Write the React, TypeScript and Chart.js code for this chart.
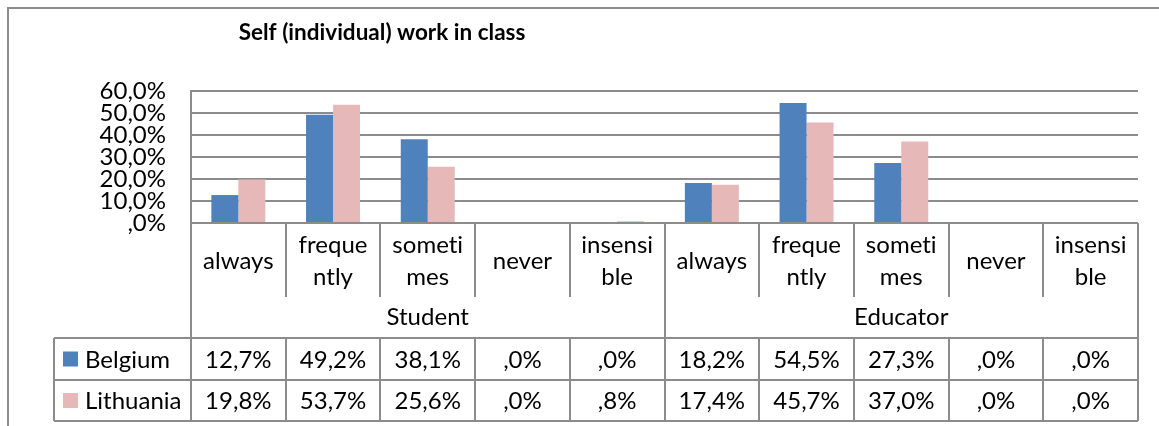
import React, { useEffect, useRef } from "react";
import { Chart, registerables } from "chart.js";

Chart.register(...registerables);

const chartTitle = "Self (individual) work in class";
const groups = ["Student", "Educator"];
const categoryLines = [["always"], ["freque", "ntly"], ["someti", "mes"], ["never"], ["insensi", "ble"]];
const categories = ["always", "frequently", "sometimes", "never", "insensible"];
const seriesNames = ["Belgium", "Lithuania"];
const belgium = [12.7, 49.2, 38.1, 0, 0, 18.2, 54.5, 27.3, 0, 0];
const lithuania = [19.8, 53.7, 25.6, 0, 0.8, 17.4, 45.7, 37.0, 0, 0];
const yTicks = [0, 10, 20, 30, 40, 50, 60];
const colors = ["#4F81BD", "#E6B9B8"];

const FONT = "Lato, 'Liberation Sans', sans-serif";
const GRID = "#8c8c8c";

function fmt(v: number): string {
  let s = v.toFixed(1).replace(".", ",");
  if (s.startsWith("0,")) s = s.slice(1);
  return s + "%";
}

const labels: string[] = [];
groups.forEach((g) => categories.forEach((c) => labels.push(g + " " + c)));

const tablePlugin = {
  id: "excelTable",
  beforeDraw(chart: any) {
    const ctx = chart.ctx;
    ctx.save();
    ctx.fillStyle = "#ffffff";
    ctx.fillRect(0, 0, chart.width, chart.height);
    ctx.strokeStyle = GRID;
    ctx.lineWidth = 2;
    ctx.beginPath();
    ctx.moveTo(8, chart.height);
    ctx.lineTo(8, 8);
    ctx.lineTo(chart.width, 8);
    ctx.stroke();
    ctx.restore();
  },
  afterDraw(chart: any) {
    const ctx = chart.ctx;
    const area = chart.chartArea;
    const x = chart.scales.x;
    const n = labels.length;
    const colW = (area.right - area.left) / n;
    const bound = (k: number) => area.left + k * colW;
    const zeroY = area.bottom;
    const labelBottom = 297;
    const row1 = 338;
    const row2 = 380;
    const row3 = 421;
    const tableLeft = 54;

    ctx.save();
    ctx.strokeStyle = GRID;
    ctx.lineWidth = 2;
    ctx.beginPath();
    for (let k = 0; k <= n; k++) {
      const bx = Math.round(bound(k));
      if (k === 0 || k === n || k === categories.length) {
        ctx.moveTo(bx, zeroY);
        ctx.lineTo(bx, row3);
      } else {
        ctx.moveTo(bx, zeroY);
        ctx.lineTo(bx, labelBottom);
        ctx.moveTo(bx, row1);
        ctx.lineTo(bx, row3);
      }
    }
    [row1, row2, row3].forEach((yy) => {
      ctx.moveTo(tableLeft, yy);
      ctx.lineTo(area.right, yy);
    });
    ctx.moveTo(tableLeft, row1);
    ctx.lineTo(tableLeft, row3);
    ctx.stroke();

    try {
      (ctx as any).letterSpacing = "0.01px";
    } catch (e) {}

    // title
    ctx.fillStyle = "#000000";
    ctx.textAlign = "center";
    ctx.textBaseline = "middle";
    ctx.font = "bold 22.5px " + FONT;
    ctx.fillText(chartTitle, 382, 33);

    // category labels
    ctx.font = "24px " + FONT;
    for (let i = 0; i < n; i++) {
      const cx = x.getPixelForValue(i);
      const lines = categoryLines[i % categories.length];
      if (lines.length === 1) {
        ctx.fillText(lines[0], cx, 261);
      } else {
        ctx.fillText(lines[0], cx, 245);
        ctx.fillText(lines[1], cx, 277);
      }
    }
    // group labels
    groups.forEach((g, gi) => {
      const gx = (bound(gi * categories.length) + bound((gi + 1) * categories.length)) / 2;
      ctx.fillText(g, gx, 317);
    });

    // data table
    const series = [belgium, lithuania];
    const rowCenters = [(row1 + row2) / 2, (row2 + row3) / 2];
    series.forEach((vals, si) => {
      const cy = rowCenters[si];
      ctx.fillStyle = colors[si];
      ctx.fillRect(63, cy - 7.5, 15, 15);
      ctx.fillStyle = "#000000";
      ctx.textAlign = "left";
      ctx.fillText(seriesNames[si], 85, cy + 1);
      ctx.textAlign = "center";
      vals.forEach((v, i) => {
        ctx.fillText(fmt(v), x.getPixelForValue(i), cy + 1);
      });
    });
    ctx.restore();
  },
};

export default function App() {
  const ref = useRef<HTMLCanvasElement | null>(null);
  useEffect(() => {
    if (!ref.current) return;
    const chart = new Chart(ref.current, {
      type: "bar",
      data: {
        labels,
        datasets: [
          {
            label: seriesNames[0],
            data: belgium,
            backgroundColor: colors[0],
            barPercentage: 1,
            categoryPercentage: 0.57,
          },
          {
            label: seriesNames[1],
            data: lithuania,
            backgroundColor: colors[1],
            barPercentage: 1,
            categoryPercentage: 0.57,
          },
        ],
      },
      options: {
        animation: false,
        responsive: false,
        devicePixelRatio: 1,
        layout: { padding: { top: 91, right: 21, bottom: 203, left: 0 } },
        plugins: {
          legend: { display: false },
          title: { display: false },
          tooltip: { enabled: false },
        },
        scales: {
          x: { display: false },
          y: {
            min: 0,
            max: 60,
            afterBuildTicks: (s: any) => {
              s.ticks = yTicks.map((v) => ({ value: v }));
            },
            afterFit: (s: any) => {
              s.width = 191;
            },
            grid: { color: GRID, lineWidth: 2, drawTicks: false },
            border: { display: true, color: GRID, width: 2 },
            ticks: {
              autoSkip: false,
              padding: 25,
              color: "#000000",
              font: { family: FONT, size: 24 },
              callback: (v: any) => fmt(Number(v)),
            },
          },
        },
      },
      plugins: [tablePlugin],
    } as any);
    return () => chart.destroy();
  }, []);
  return (
    <div style={{ position: "absolute", left: 0, top: 0, width: 1159, height: 426 }}>
      <canvas ref={ref} width={1159} height={426} style={{ display: "block" }} />
    </div>
  );
}
